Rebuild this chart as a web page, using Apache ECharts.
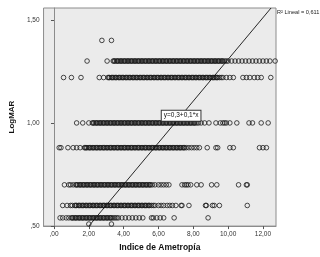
<!DOCTYPE html>
<html>
<head>
<meta charset="utf-8">
<script src="https://cdn.jsdelivr.net/npm/echarts@6/dist/echarts.min.js"></script>
<style>
html, body { margin: 0; padding: 0; background: #fff; }
#chart { width: 320px; height: 257px; }
</style>
</head>
<body>
<div id="chart"></div>
<script>
// LogMAR levels (one row of points per level)
var levels = [1.40, 1.30, 1.22, 1.00, 0.88, 0.70, 0.60, 0.54, 0.51];

// Indice de Ametropia values
var row140 = [2.75, 3.3];
var row130 = [1.9, 3.05, 3.4, 3.5, 3.6, 3.7, 3.8, 3.9, 4.0, 4.1, 4.2, 4.3, 4.4, 4.5, 4.6, 4.7, 4.8, 4.9,
    5.0, 5.1, 5.2, 5.3, 5.4, 5.5, 5.6, 5.7, 5.8, 5.9, 6.0, 6.1, 6.2, 6.3, 6.4, 6.5, 6.6, 6.7, 6.8, 6.9,
    7.0, 7.1, 7.2, 7.3, 7.4, 7.5, 7.6, 7.7, 7.8, 7.9, 8.0, 8.1, 8.2, 8.3, 8.4, 8.5, 8.6, 8.7, 8.8, 8.9,
    9.0, 9.1, 9.2, 9.3, 9.4, 9.5, 9.6, 9.7, 9.8, 9.9, 10.0, 10.2, 10.4, 10.6, 10.8, 11.0, 11.2, 11.4,
    11.6, 11.8, 12.0, 12.2, 12.4, 12.7];
var row122 = [0.55, 1.0, 1.55, 2.6, 2.85, 3.1, 3.2, 3.3, 3.4, 3.5, 3.6, 3.7, 3.8, 3.9, 4.0, 4.1, 4.2,
    4.3, 4.4, 4.5, 4.6, 4.7, 4.8, 4.9, 5.0, 5.1, 5.2, 5.3, 5.4, 5.5, 5.6, 5.7, 5.8, 5.9, 6.0, 6.1, 6.2,
    6.3, 6.4, 6.5, 6.6, 6.7, 6.8, 6.9, 7.0, 7.1, 7.2, 7.3, 7.4, 7.5, 7.6, 7.7, 7.8, 7.9, 8.0, 8.1, 8.2,
    8.3, 8.4, 8.5, 8.6, 8.7, 8.8, 8.9, 9.0, 9.1, 9.2, 9.3, 9.4, 9.5, 9.6, 9.7, 9.9, 10.1, 10.3, 10.85,
    11.05, 11.25, 11.5, 11.7, 11.9, 12.45];
var row100 = [1.3, 1.65, 2.0, 2.2, 2.3, 2.4, 2.5, 2.6, 2.7, 2.8, 2.9, 3.0, 3.1, 3.2, 3.3, 3.4, 3.5,
    3.6, 3.7, 3.8, 3.9, 4.0, 4.1, 4.2, 4.3, 4.4, 4.5, 4.6, 4.7, 4.8, 4.9, 5.0, 5.1, 5.2, 5.3, 5.4, 5.5,
    5.6, 5.7, 5.8, 5.9, 6.0, 6.1, 6.2, 6.3, 6.4, 6.5, 6.6, 6.7, 6.8, 6.9, 7.0, 7.1, 7.2, 7.3, 7.4, 7.5,
    7.6, 7.7, 7.8, 7.9, 8.0, 8.1, 8.2, 8.3, 8.45, 8.65, 8.9, 9.3, 9.55, 9.7, 9.8, 9.9, 10.1, 10.5,
    11.2, 11.4, 11.9, 12.3];
var row088 = [0.3, 0.4, 0.8, 1.1, 1.3, 1.5, 1.75, 1.8, 1.9, 2.0, 2.1, 2.2, 2.3, 2.4, 2.5, 2.6, 2.7,
    2.8, 2.9, 3.0, 3.1, 3.2, 3.3, 3.4, 3.5, 3.6, 3.7, 3.8, 3.9, 4.0, 4.1, 4.2, 4.3, 4.4, 4.5, 4.6, 4.7,
    4.8, 4.9, 5.0, 5.1, 5.2, 5.3, 5.4, 5.5, 5.6, 5.7, 5.8, 5.9, 6.0, 6.1, 6.2, 6.3, 6.4, 6.5, 6.6, 6.7,
    6.8, 6.9, 7.0, 7.1, 7.2, 7.3, 7.4, 7.5, 7.6, 7.75, 7.9, 8.05, 8.2, 8.35, 8.8, 9.3, 9.4, 10.1, 10.3,
    11.8, 12.0, 12.2];
var row070 = [0.6, 0.85, 0.95, 1.1, 1.25, 1.35, 1.45, 1.55, 1.65, 1.75, 1.85, 1.95, 2.05, 2.15, 2.25,
    2.35, 2.45, 2.55, 2.65, 2.75, 2.85, 2.95, 3.05, 3.15, 3.25, 3.35, 3.45, 3.55, 3.65, 3.75, 3.85,
    3.95, 4.05, 4.15, 4.25, 4.35, 4.45, 4.55, 4.65, 4.75, 4.85, 4.95, 5.05, 5.15, 5.25, 5.35, 5.45,
    5.55, 5.65, 5.8, 6.0, 6.15, 6.3, 6.45, 6.6, 7.35, 7.5, 7.6, 7.7, 7.85, 8.2, 8.45, 9.05, 9.35, 10.6,
    11.05, 11.1];
var row060 = [0.5, 0.75, 0.95, 1.05, 1.2, 1.3, 1.4, 1.5, 1.6, 1.7, 1.8, 1.9, 2.0, 2.1, 2.2, 2.3, 2.4,
    2.5, 2.6, 2.7, 2.8, 2.9, 3.0, 3.1, 3.2, 3.3, 3.4, 3.5, 3.6, 3.7, 3.8, 3.9, 4.0, 4.1, 4.2, 4.3, 4.4,
    4.5, 4.6, 4.7, 4.8, 4.9, 5.0, 5.1, 5.2, 5.3, 5.4, 5.5, 5.6, 5.7, 5.8, 6.0, 6.15, 6.3, 6.5, 6.65,
    6.8, 7.0, 7.3, 7.35, 7.75, 8.7, 8.75, 9.1, 9.2, 9.5, 11.1];
var row054 = [0.35, 0.5, 0.7, 0.85, 1.0, 1.1, 1.2, 1.3, 1.4, 1.5, 1.6, 1.7, 1.8, 1.9, 2.0, 2.1, 2.2,
    2.3, 2.4, 2.5, 2.6, 2.7, 2.8, 2.9, 3.0, 3.1, 3.2, 3.3, 3.4, 3.5, 3.6, 3.7, 3.9, 4.1, 4.3, 4.5, 4.7,
    4.9, 5.1, 5.6, 5.7, 5.9, 6.1, 6.3, 6.9, 8.85];
var row051 = [2.0, 3.3];

// extra cases inside the densest stretches (repeated ametropia values)
var dense130 = [3.45, 3.65, 3.85, 4.05, 4.25, 4.45, 4.65, 4.85, 5.05, 5.25, 5.45, 5.65, 5.85, 6.05,
    6.25, 6.45, 6.65, 6.85, 7.05, 7.25, 7.45, 7.65, 7.85, 8.05, 8.25, 8.45, 8.65, 8.85, 9.05, 9.25,
    9.45, 9.65];
var dense122 = [3.15, 3.35, 3.55, 3.75, 3.95, 4.15, 4.35, 4.55, 4.75, 4.95, 5.15, 5.35, 5.55, 5.75,
    5.95, 6.15, 6.35, 6.55, 6.75, 6.95, 7.15, 7.35, 7.55, 7.75, 7.95, 8.15, 8.35, 8.55, 8.75, 8.95,
    9.15, 9.35];
var dense100 = [2.25, 2.45, 2.65, 2.85, 3.05, 3.25, 3.45, 3.65, 3.85, 4.05, 4.25, 4.45, 4.65, 4.85,
    5.05, 5.25, 5.45, 5.65, 5.85, 6.05, 6.25, 6.45, 6.65, 6.85, 7.05, 7.25, 7.45, 7.65, 7.85, 8.05];
var dense088 = [1.85, 2.05, 2.25, 2.45, 2.65, 2.85, 3.05, 3.25, 3.45, 3.65, 3.85, 4.05, 4.25, 4.45,
    4.65, 4.85, 5.05, 5.25, 5.45, 5.65, 5.85, 6.05, 6.25, 6.45, 6.65, 6.85, 7.05, 7.25, 7.45];
var dense070 = [1.3, 1.5, 1.7, 1.9, 2.1, 2.3, 2.5, 2.7, 2.9, 3.1, 3.3, 3.5, 3.7, 3.9, 4.1, 4.3, 4.5,
    4.7, 4.9, 5.1, 5.3, 5.5];
var dense060 = [1.25, 1.45, 1.65, 1.85, 2.05, 2.25, 2.45, 2.65, 2.85, 3.05, 3.25, 3.45, 3.65, 3.85,
    4.05, 4.25, 4.45, 4.65, 4.85, 5.05, 5.25, 5.45];
var dense054 = [1.05, 1.25, 1.45, 1.65, 1.85, 2.05, 2.25, 2.45, 2.65, 2.85, 3.05, 3.25];

var rows = [row140, row130, row122, row100, row088, row070, row060, row054, row051];
var denseRows = [[], dense130, dense122, dense100, dense088, dense070, dense060, dense054, []];

var xTicks = [0, 2, 4, 6, 8, 10, 12];
var yTicks = [0.5, 1.0, 1.5];

// fit line y = a + b*x
var fitA = 0.298;
var fitB = 0.101;
var fitText = 'y=0,3+0,1*x';
var r2Text = 'R² Lineal = 0,611';

var xMin = -0.6, xMax = 12.75;
var yMin = 0.5, yMax = 1.557;

var points = [];
rows.forEach(function (row, i) {
    row.concat(denseRows[i]).forEach(function (x) {
        points.push([x, levels[i]]);
    });
});

var fitLine = [
    [(yMin - fitA) / fitB, yMin],
    [(yMax - fitA) / fitB, yMax]
];
var labelX = 7.3;

function fmt(v) {
    var s = v.toFixed(2).replace('.', ',');
    if (s.indexOf('0,') === 0) s = s.substring(1);
    return s;
}

var chart = echarts.init(document.getElementById('chart'));
var option = {
    animation: false,
    backgroundColor: '#fff',
    textStyle: { fontFamily: 'Liberation Sans, Arial, sans-serif' },
    grid: {
        left: 34, top: 8, right: 44, bottom: 27,
        show: true,
        backgroundColor: '#ebebeb',
        borderColor: '#8c8c8c',
        borderWidth: 1
    },
    xAxis: {
        type: 'value',
        min: xMin,
        max: xMax,
        name: 'Indice de Ametropía',
        nameLocation: 'middle',
        nameGap: 14,
        nameTextStyle: { fontSize: 8.5, fontWeight: 'bold', color: '#111' },
        splitLine: { show: false },
        axisLine: { show: true, lineStyle: { color: '#8c8c8c' } },
        axisTick: { show: true, length: 3, customValues: xTicks, lineStyle: { color: '#555' } },
        axisLabel: { customValues: xTicks, fontSize: 6.5, color: '#333', margin: 5, formatter: fmt }
    },
    yAxis: {
        type: 'value',
        min: yMin,
        max: yMax,
        name: 'LogMAR',
        nameLocation: 'middle',
        nameGap: 20,
        nameTextStyle: { fontSize: 8, fontWeight: 'bold', color: '#111' },
        splitLine: { show: false },
        axisLine: { show: true, lineStyle: { color: '#8c8c8c' } },
        axisTick: { show: true, length: 3, customValues: yTicks, lineStyle: { color: '#555' } },
        axisLabel: { customValues: yTicks, fontSize: 6.5, color: '#333', margin: 4, formatter: fmt }
    },
    graphic: [{
        type: 'text',
        left: 277,
        top: 9,
        style: { text: r2Text, fontSize: 5.6, fill: '#222', fontFamily: 'Liberation Sans, Arial, sans-serif' }
    }],
    series: [{
        type: 'scatter',
        data: points,
        symbol: 'circle',
        symbolSize: 4.6,
        itemStyle: { color: 'rgba(0,0,0,0)', borderColor: '#1a1a1a', borderWidth: 1 },
        silent: true
    }, {
        type: 'line',
        data: fitLine,
        showSymbol: false,
        lineStyle: { color: '#111', width: 0.9 },
        silent: true,
        markPoint: {
            symbol: 'rect',
            symbolSize: 0,
            data: [{ coord: [labelX, fitA + fitB * labelX] }],
            label: {
                show: true,
                formatter: fitText,
                position: 'inside',
                fontSize: 6.5,
                color: '#111',
                backgroundColor: '#fff',
                borderColor: '#333',
                borderWidth: 1,
                padding: [2, 2, 1, 2]
            }
        }
    }]
};
chart.setOption(option);
</script>
</body>
</html>
